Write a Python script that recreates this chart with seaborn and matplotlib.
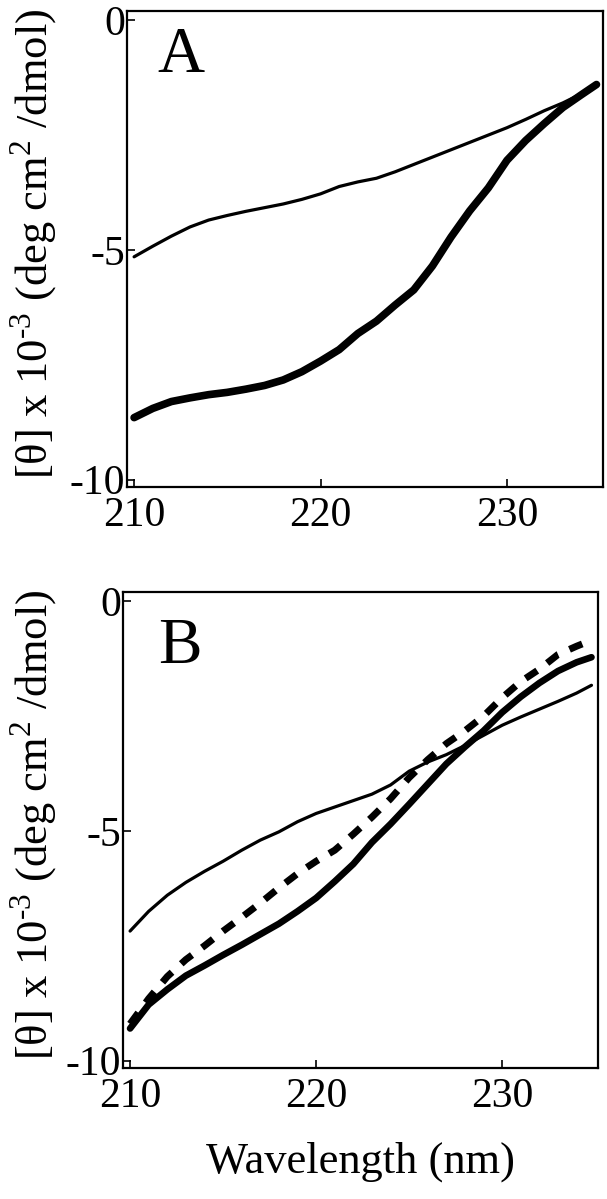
import matplotlib
matplotlib.use("Agg")
import matplotlib.pyplot as plt
import seaborn as sns

# wavelength grid (nm)
wavelength = [210, 211, 212, 213, 214, 215, 216, 217, 218, 219, 220, 221, 222,
              223, 224, 225, 226, 227, 228, 229, 230, 231, 232, 233, 234, 234.8]

# Panel A
a_thin = [-5.15, -4.92, -4.70, -4.50, -4.35, -4.25, -4.16, -4.08, -4.00, -3.90,
          -3.78, -3.62, -3.52, -3.44, -3.30, -3.14, -2.98, -2.82, -2.66, -2.50,
          -2.34, -2.16, -1.97, -1.80, -1.60, -1.42]
a_thick = [-8.65, -8.45, -8.30, -8.22, -8.15, -8.10, -8.03, -7.95, -7.83, -7.65,
           -7.42, -7.17, -6.82, -6.55, -6.20, -5.87, -5.35, -4.72, -4.15, -3.65,
           -3.05, -2.62, -2.25, -1.90, -1.62, -1.40]

# Panel B
b_thin = [-7.18, -6.75, -6.40, -6.12, -5.88, -5.66, -5.42, -5.20, -5.02, -4.80,
          -4.62, -4.48, -4.34, -4.20, -4.00, -3.70, -3.50, -3.34, -3.14, -2.92,
          -2.70, -2.52, -2.35, -2.18, -2.00, -1.83]
b_thick = [-9.30, -8.78, -8.45, -8.15, -7.93, -7.70, -7.48, -7.25, -7.02, -6.75,
           -6.46, -6.10, -5.72, -5.25, -4.85, -4.42, -3.98, -3.54, -3.17, -2.82,
           -2.42, -2.08, -1.78, -1.52, -1.33, -1.22]
b_dashed = [-9.20, -8.65, -8.17, -7.80, -7.50, -7.18, -6.88, -6.57, -6.24, -5.93,
            -5.66, -5.42, -5.07, -4.70, -4.30, -3.84, -3.45, -3.10, -2.82, -2.50,
            -2.10, -1.75, -1.48, -1.16, -0.98, -0.85]

xticks = [210, 220, 230]
yticks = [0, -5, -10]
ylabel = r"[θ] x 10$^{\text{-3}}$ (deg cm$^{\text{2}}$ /dmol)"

sns.set_style("ticks")
plt.rcParams['font.family'] = ['Liberation Serif', 'DejaVu Serif']
plt.rcParams['mathtext.fontset'] = 'custom'
plt.rcParams['mathtext.rm'] = 'Liberation Serif'
plt.rcParams['axes.unicode_minus'] = False
plt.rcParams['text.color'] = 'black'
plt.rcParams['axes.labelcolor'] = 'black'
plt.rcParams['xtick.color'] = 'black'
plt.rcParams['ytick.color'] = 'black'

fig = plt.figure(figsize=(6.07, 11.99), dpi=100)
axA = fig.add_axes([127/607, 1 - 487/1199, 476/607, 476/1199])
axB = fig.add_axes([123/607, 1 - 1068/1199, 475/607, 476/1199])

sns.lineplot(x=wavelength, y=a_thin, ax=axA, color='black', linewidth=2.3)
sns.lineplot(x=wavelength, y=a_thick, ax=axA, color='black', linewidth=5.5)

sns.lineplot(x=wavelength, y=b_thin, ax=axB, color='black', linewidth=2.3)
sns.lineplot(x=wavelength, y=b_thick, ax=axB, color='black', linewidth=4.8)
sns.lineplot(x=wavelength, y=b_dashed, ax=axB, color='black', linewidth=5)
axB.lines[-1].set_dashes((2.0, 1.8))

for ax, letter, lx, ly, yl_x in [(axA, "A", 0.063, 0.872, -0.14),
                                 (axB, "B", 0.074, 0.851, -0.132)]:
    ax.set_xlim(209.62, 235.15)
    ax.set_ylim(-10.16, 0.2)
    ax.set_xticks(xticks)
    ax.set_yticks(yticks)
    ax.set_xticklabels([str(t) for t in xticks])
    ax.set_yticklabels([str(t) for t in yticks])
    ax.tick_params(direction='in', length=6, width=1.2, labelsize=30,
                   color='black', labelcolor='black')
    ax.tick_params(axis='x', pad=6.5)
    ax.tick_params(axis='y', pad=1.5)
    for s in ax.spines.values():
        s.set_visible(True)
        s.set_linewidth(1.6)
        s.set_color('black')
    ax.set_ylabel(ylabel, fontsize=32, color='black')
    ax.yaxis.set_label_coords(yl_x, 0.51)
    ax.text(lx, ly, letter, transform=ax.transAxes, fontsize=47,
            ha='left', va='baseline', color='black')
    ax.set_xlabel("")

axB.set_xlabel("Wavelength (nm)", fontsize=32, color='black')
axB.xaxis.set_label_coords(0.5, -0.155)

fig.savefig("out.png", dpi=100)
